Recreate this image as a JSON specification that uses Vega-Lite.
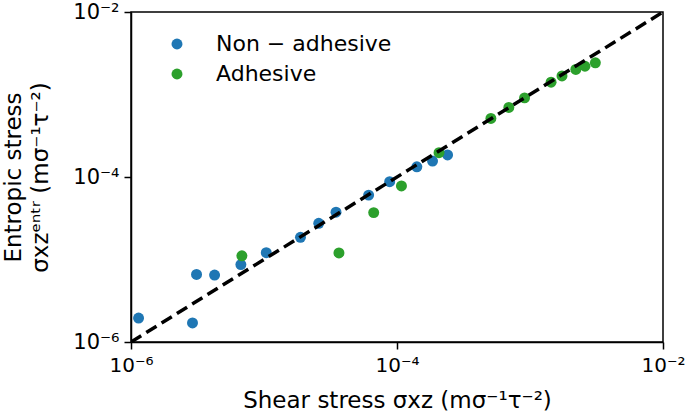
{
  "$schema": "https://vega.github.io/schema/vega-lite/v6.json",
  "autosize": "none",
  "width": 532,
  "height": 330,
  "padding": {"left": 131, "top": 12, "right": 22, "bottom": 77},
  "config": {
    "font": "DejaVu Sans",
    "view": {"stroke": "#000", "strokeWidth": 1.5},
    "axis": {
      "domainColor": "#000",
      "domainWidth": 1.5,
      "tickColor": "#000",
      "tickWidth": 1.5,
      "tickSize": 7,
      "labelColor": "#000",
      "titleColor": "#000",
      "labelFont": "DejaVu Sans",
      "titleFont": "DejaVu Sans",
      "labelFontSize": 21,
      "titleFontSize": 23,
      "titleFontWeight": "normal",
      "labelFlush": false,
      "labelOverlap": false,
      "grid": false
    }
  },
  "layer": [
    {
      "data": {"values": [
        {"shear": 1.14e-6, "entr": 1.95e-6, "type": "Non − adhesive"},
        {"shear": 2.90e-6, "entr": 1.70e-6, "type": "Non − adhesive"},
        {"shear": 3.11e-6, "entr": 6.58e-6, "type": "Non − adhesive"},
        {"shear": 4.25e-6, "entr": 6.47e-6, "type": "Non − adhesive"},
        {"shear": 6.70e-6, "entr": 8.69e-6, "type": "Non − adhesive"},
        {"shear": 1.04e-5, "entr": 1.21e-5, "type": "Non − adhesive"},
        {"shear": 1.88e-5, "entr": 1.86e-5, "type": "Non − adhesive"},
        {"shear": 2.58e-5, "entr": 2.75e-5, "type": "Non − adhesive"},
        {"shear": 3.48e-5, "entr": 3.74e-5, "type": "Non − adhesive"},
        {"shear": 6.12e-5, "entr": 6.03e-5, "type": "Non − adhesive"},
        {"shear": 8.81e-5, "entr": 8.77e-5, "type": "Non − adhesive"},
        {"shear": 1.41e-4, "entr": 1.33e-4, "type": "Non − adhesive"},
        {"shear": 1.85e-4, "entr": 1.56e-4, "type": "Non − adhesive"},
        {"shear": 2.40e-4, "entr": 1.85e-4, "type": "Non − adhesive"},
        {"shear": 6.82e-6, "entr": 1.11e-5, "type": "Adhesive"},
        {"shear": 3.66e-5, "entr": 1.20e-5, "type": "Adhesive"},
        {"shear": 6.68e-5, "entr": 3.70e-5, "type": "Adhesive"},
        {"shear": 1.08e-4, "entr": 7.78e-5, "type": "Adhesive"},
        {"shear": 2.07e-4, "entr": 1.97e-4, "type": "Adhesive"},
        {"shear": 5.08e-4, "entr": 5.13e-4, "type": "Adhesive"},
        {"shear": 6.93e-4, "entr": 6.97e-4, "type": "Adhesive"},
        {"shear": 9.10e-4, "entr": 9.10e-4, "type": "Adhesive"},
        {"shear": 1.44e-3, "entr": 1.41e-3, "type": "Adhesive"},
        {"shear": 1.74e-3, "entr": 1.68e-3, "type": "Adhesive"},
        {"shear": 2.21e-3, "entr": 2.01e-3, "type": "Adhesive"},
        {"shear": 2.59e-3, "entr": 2.20e-3, "type": "Adhesive"},
        {"shear": 3.10e-3, "entr": 2.42e-3, "type": "Adhesive"}
      ]},
      "mark": {"type": "point", "filled": true, "shape": "circle", "size": 120, "opacity": 1},
      "encoding": {
        "x": {
          "field": "shear", "type": "quantitative",
          "scale": {"type": "log", "domain": [1e-6, 1e-2], "nice": false},
          "axis": {
            "values": [1e-6, 1e-4, 1e-2],
            "labelExpr": "datum.value < 5e-6 ? '10⁻⁶' : datum.value < 5e-4 ? '10⁻⁴' : '10⁻²'",
            "labelFontSize": 20,
            "labelPadding": 6,
            "title": "Shear stress σxz (mσ⁻¹τ⁻²)",
            "titlePadding": 14
          }
        },
        "y": {
          "field": "entr", "type": "quantitative",
          "scale": {"type": "log", "domain": [1e-6, 1e-2], "nice": false},
          "axis": {
            "values": [1e-6, 1e-4, 1e-2],
            "labelExpr": "datum.value < 5e-6 ? '10⁻⁶' : datum.value < 5e-4 ? '10⁻⁴' : '10⁻²'",
            "labelPadding": 5,
            "title": ["Entropic stress", "σxzᵉⁿᵗʳ (mσ⁻¹τ⁻²)"],
            "titleLineHeight": 27,
            "titlePadding": 20
          }
        },
        "color": {
          "field": "type", "type": "nominal",
          "scale": {"domain": ["Non − adhesive", "Adhesive"], "range": ["#1f77b4", "#2ca02c"]},
          "legend": {
            "title": null,
            "orient": "none",
            "legendX": 35,
            "legendY": 21,
            "labelFontSize": 22,
            "labelFont": "DejaVu Sans",
            "labelColor": "#000",
            "labelLimit": 400,
            "symbolSize": 120,
            "symbolType": "circle",
            "symbolStrokeWidth": 0,
            "rowPadding": 8,
            "labelOffset": 28,
            "padding": 0
          }
        }
      }
    },
    {
      "data": {"values": [{"a": 1e-6}, {"a": 1e-2}]},
      "mark": {"type": "line", "color": "#000", "strokeWidth": 3.5, "strokeDash": [12, 6], "clip": true},
      "encoding": {
        "x": {"field": "a", "type": "quantitative"},
        "y": {"field": "a", "type": "quantitative"}
      }
    }
  ]
}
